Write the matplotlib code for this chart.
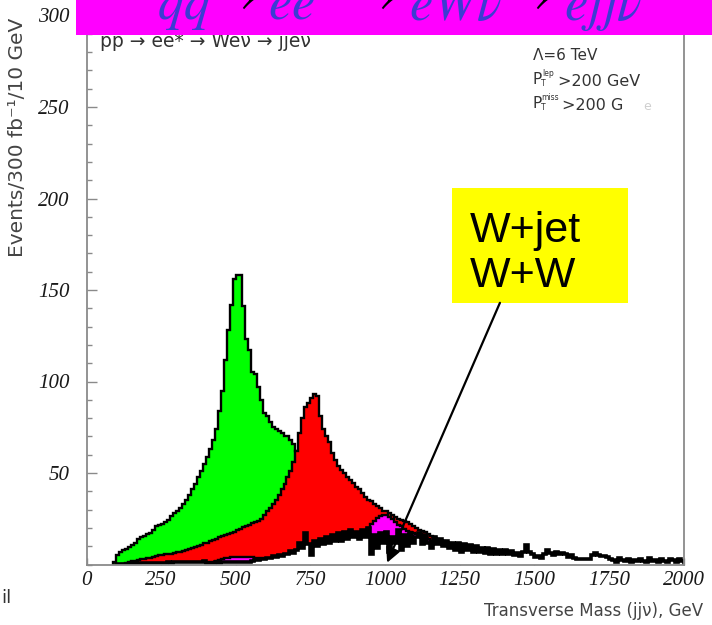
import numpy as np
import matplotlib
matplotlib.use("Agg")
import matplotlib.pyplot as plt
from matplotlib.patches import Rectangle
from matplotlib.ticker import MultipleLocator

plt.rcParams['mathtext.fontset'] = 'stix'

BIN = 10  # GeV per bin

# Signal, M(e*) = 500 GeV (green); first bin edge in GeV
green_start = 90
green_counts = [1.5, 5, 7, 8, 8.5, 9.5, 10.5, 12, 14, 15,
                15.5, 16.5, 17, 19, 21, 21.5, 22, 23, 24.5, 26.5,
                28, 29, 31, 33, 35, 38, 41, 44, 48, 51,
                55, 59, 63, 68, 74, 84, 95, 112, 128, 142,
                156, 158, 158, 141, 123, 117, 105, 104, 97, 90,
                83, 81, 78, 75, 74, 73, 72, 70, 70, 68,
                66, 62, 59, 56, 53, 50, 47, 45, 43, 41,
                39, 37, 35, 33, 31, 30, 28, 27, 25, 24,
                23, 22, 21, 20, 19, 18, 17, 16, 15, 14]

# Signal, M(e*) = 750 GeV (red)
red_start = 120
red_counts = [0.5, 1, 1.5, 2, 2, 2.5, 3, 3, 3.5, 3.5,
              4, 4.5, 5, 5, 5.5, 6, 6, 6.5, 7, 7,
              7.5, 8, 8.5, 9, 9.5, 10, 10.5, 11.5, 12, 13,
              13.5, 14, 15, 15.5, 16, 16.5, 17, 18, 19, 19.5,
              20.5, 21, 21.5, 22.5, 23, 24, 25, 27, 29, 31,
              33, 35, 38, 41, 44, 48, 51, 56, 62, 72,
              80, 86, 88, 91, 93, 92, 81, 74, 70, 67,
              61, 57, 54, 51.5, 50, 48, 46, 44.5, 42.5, 41,
              39, 37, 35.5, 34.5, 33, 32, 31, 29.5, 29, 28,
              27, 26, 25, 24.3, 24, 23, 22, 21, 20, 19,
              18.5, 17.5, 16.5, 15.5, 15, 14, 13.5, 13, 12.5, 12,
              11, 10.5, 10, 9.5, 9, 8.5, 8.5, 8, 8, 7.5,
              7.5, 7, 7, 7, 6.5, 6.5, 6, 6, 5.5, 5.5,
              5, 5, 4.5, 4.5, 4, 4, 3.5, 3.5]

# Signal, M(e*) = 1000 GeV (magenta)
mag_start = 400
mag_counts = [0.8, 1.2, 1.6, 2.1, 2.6, 3.0, 3.4, 3.7, 3.9, 4.0,
              4.0, 4.1, 4.1, 4.0, 4.0, 3.9, 3.8, 3.7, 3.5, 3.2,
              2.9, 3.0, 3.1, 3.2, 3.3, 3.4, 3.6, 3.8, 4.0, 4.2,
              4.4, 4.6, 4.8, 5.0, 5.0, 4.8, 5.5, 6.0, 6.5, 7.0,
              7.5, 8, 8.5, 9, 9.5, 10, 10.5, 11, 11.5, 12,
              13, 14, 15.5, 17.5, 20, 22, 24, 25.5, 26.5, 27,
              27, 26, 25, 23, 21.5, 21, 19.5, 18.5, 18, 17,
              16.5, 15.5, 15, 14.5, 14, 13, 12.5, 12, 11.5, 11,
              10.5, 10, 9.5, 9, 8.5, 8, 7.5, 7, 6.5, 6,
              5.5, 5.2, 5, 4.8, 4.5, 4.3, 4, 3.8, 3.5, 3.3]

# Standard Model background W+jet, W+W (black outline)
bkg_start = 100
bkg_counts = [0.3, 0.3, 0.5, 0.4, 0.5, 0.5, 0.6, 0.5, 0.7, 0.6,
              0.8, 0.7, 0.9, 0.8, 1.0, 0.9, 1.0, 1.1, 1.0, 1.2,
              1.1, 1.3, 1.2, 1.4, 1.3, 1.5, 1.4, 1.6, 1.5, 1.8,
              0.8, 1.0, 0.9, 1.1, 1.0, 1.2, 1.1, 1.2, 1.1, 1.3,
              1.2, 1.4, 1.3, 1.5, 1.6, 1.9, 2.3, 2.2, 2.8, 3.2,
              3.8, 3.4, 4.5, 4.0, 5.2, 4.6, 6.0, 5.5, 7.2, 6.5,
              8.0, 12.0, 9.0, 17.0, 11.0, 5.0, 13.0, 10.0, 14.0, 11.0,
              15.0, 12.0, 16.0, 13.0, 17.0, 13.0, 18.0, 14.0, 19.0, 15.0,
              18.0, 14.0, 19.0, 15.0, 20.0, 6.0, 16.0, 9.0, 17.0, 12.0,
              18.0, 7.0, 15.0, 12.0, 19.0, 8.0, 16.0, 10.0, 17.0, 12.0,
              15.0, 17.0, 11.0, 16.0, 12.0, 9.0, 15.0, 11.0, 14.0, 10.0,
              13.0, 9.0, 12.0, 8.0, 12.0, 7.0, 11.0, 8.0, 10.5, 7.0,
              10.0, 7.0, 9.0, 6.5, 9.0, 6.0, 8.5, 6.0, 8.0, 5.5,
              8.0, 6.0, 7.5, 5.0, 6.5, 4.5, 7.0, 10.5, 7.0, 5.5,
              4.0, 4.5, 3.5, 6.0, 8.0, 6.5, 5.0, 7.0, 5.5, 6.5,
              5.5, 4.0, 5.0, 3.5, 3.0, 2.8, 2.8, 2.8, 3.0, 5.0,
              6.5, 5.0, 4.5, 4.5, 4.0, 3.0, 2.5, 1.5, 3.5, 2.5,
              2.0, 3.0, 1.5, 2.5, 2.0, 3.0, 2.0, 1.5, 3.5, 2.0,
              2.5, 1.5, 3.0, 2.0, 1.5, 3.0, 2.5, 1.5, 3.0, 2.0]

x_ticks = [0, 250, 500, 750, 1000, 1250, 1500, 1750, 2000]
y_ticks = [50, 100, 150, 200, 250, 300]

W, H = 712, 625
fig = plt.figure(figsize=(W / 100, H / 100), dpi=100)
fig.patch.set_facecolor('white')


def fx(x):
    return x / W


def fy(y):
    return 1 - y / H


ax = fig.add_axes([fx(86.5), fy(564.5), (683.5 - 86.5) / W, (564.5 - 6.35) / H])
ax.set_xlim(0, 2000)
ax.set_ylim(0, 305)


def draw_hist(start, counts, face, z):
    vals = np.asarray(counts, dtype=float)
    edges = start + BIN * np.arange(len(vals) + 1)
    ax.stairs(vals, edges, baseline=0, fill=True, facecolor=face,
              edgecolor='none', zorder=z)
    ax.stairs(vals, edges, baseline=0, fill=False, color='black',
              lw=1.7, zorder=z + 0.1)


draw_hist(green_start, green_counts, '#00ff00', 2)
draw_hist(red_start, red_counts, '#ff0000', 3)
draw_hist(mag_start, mag_counts, '#ff00ff', 4)

bvals = np.asarray(bkg_counts, dtype=float)
bedges = bkg_start + BIN * np.arange(len(bvals) + 1)
ax.stairs(bvals, bedges, baseline=0, fill=True, facecolor='white',
          edgecolor='none', zorder=5)
ax.stairs(bvals, bedges, baseline=0, fill=False, color='black',
          lw=2.6, zorder=5.1)

# axes frame and ticks
for side in ['left', 'right', 'bottom', 'top']:
    ax.spines[side].set_color('#8a8a8a')
    ax.spines[side].set_linewidth(1.3)
    ax.spines[side].set_zorder(7)
ax.set_xticks(x_ticks)
ax.set_xticklabels([str(t) for t in x_ticks])
ax.set_yticks(y_ticks)
ax.set_yticklabels([str(t) for t in y_ticks])
ax.yaxis.set_minor_locator(MultipleLocator(10))
ax.tick_params(axis='x', which='major', direction='in', length=5, width=1,
               color='#8a8a8a', pad=5, labelsize=15, labelcolor='#1a1a1a')
ax.tick_params(axis='y', which='major', direction='in', length=7.5, width=1,
               color='#8a8a8a', pad=12, labelsize=15, labelcolor='#1a1a1a')
ax.tick_params(axis='y', which='minor', direction='in', length=3.8, width=1,
               color='#8a8a8a')
for lab in ax.get_xticklabels() + ax.get_yticklabels():
    lab.set_fontfamily('Liberation Serif')
    lab.set_fontstyle('italic')

sans = 'DejaVu Sans'
note = '#333333'

# process line inside the frame (its top is tucked under the banner)
fig.text(fx(100), fy(41.5), 'pp \u2192 ee* \u2192 We\u03bd \u2192 jje\u03bd',
         fontsize=13.5, family=sans, color=note, va='center', ha='left',
         zorder=3)

# cut and parameter notes
fig.text(fx(533), fy(56), '\u039b=6 TeV', fontsize=11, family=sans,
         color=note, va='center', ha='left')
fig.text(fx(533), fy(80), 'P', fontsize=11, family=sans,
         color=note, va='center', ha='left')
fig.text(fx(541), fy(84), 'T', fontsize=5.5, family=sans,
         color=note, va='center', ha='left')
fig.text(fx(542), fy(74), 'lep', fontsize=5.5, family=sans,
         color=note, va='center', ha='left')
fig.text(fx(558), fy(81), '>200 GeV', fontsize=11.5, family=sans,
         color=note, va='center', ha='left')
fig.text(fx(533), fy(104), 'P', fontsize=11, family=sans,
         color=note, va='center', ha='left')
fig.text(fx(541), fy(108), 'T', fontsize=5.5, family=sans,
         color=note, va='center', ha='left')
fig.text(fx(541), fy(98), 'miss', fontsize=5.5, family=sans,
         color=note, va='center', ha='left')
fig.text(fx(562), fy(105), '>200 G', fontsize=11.5, family=sans,
         color=note, va='center', ha='left')
fig.text(fx(643), fy(106), 'e', fontsize=9, family=sans,
         color='#cfcfcf', va='center', ha='left')

# axis titles
fig.text(fx(18), fy(137), 'Events/300 fb\u207b\u00b9/10 GeV', rotation=90,
         fontsize=14.5, family=sans, color='#444444', va='center',
         ha='center')
fig.text(fx(703), fy(611), 'Transverse Mass (jj\u03bd), GeV', fontsize=12,
         family=sans, color='#444444', va='center', ha='right')
fig.text(fx(1), fy(598), 'il', fontsize=13, family=sans, color=note,
         va='center', ha='left')

# banner with the decay chain
fig.add_artist(Rectangle((fx(76), fy(35)), 1 - fx(76), 35 / H,
                         transform=fig.transFigure, facecolor='#ff00ff',
                         edgecolor='none', zorder=10))
blue = '#3c3cd2'
words = [(157, r'$q\bar{q}$'), (268, r'$ee^{*}$'),
         (409, r'$eW\nu$'), (564, r'$ejj\nu$')]
for xpos, s in words:
    fig.text(fx(xpos), fy(20), s, fontsize=38, color=blue, ha='left',
             va='baseline', zorder=11)
for xpos in [262, 401, 556]:
    fig.text(fx(xpos), fy(-7), r'$\rightarrow$', fontsize=48, color='black',
             ha='right', va='center', zorder=11)

# label box with pointer
ax.add_patch(Rectangle((1225, 143), 590, 62.6, facecolor='#ffff00',
                       edgecolor='none', zorder=8))
ax.text(1283, 182, 'W+jet', fontsize=31, family='Liberation Sans',
        color='black', va='center', ha='left', zorder=9)
ax.text(1283, 157.5, 'W+W', fontsize=31, family='Liberation Sans',
        color='black', va='center', ha='left', zorder=9)
ax.annotate('', xy=(1007, 1), xytext=(1385, 143),
            arrowprops=dict(arrowstyle='-|>', color='black', lw=1.6,
                            mutation_scale=22, shrinkA=0, shrinkB=0),
            zorder=9)

fig.savefig('out.png', dpi=100, facecolor='white')
